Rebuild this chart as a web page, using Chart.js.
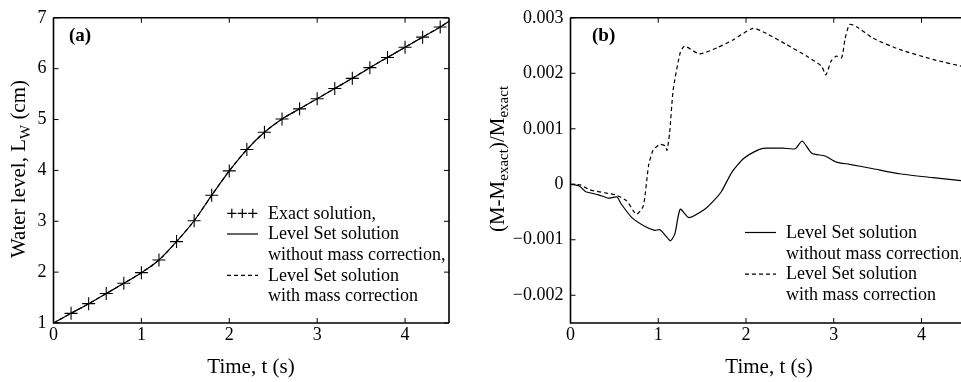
<!DOCTYPE html>
<html lang="en">
<head>
<script src="https://cdn.jsdelivr.net/npm/chart.js@4/dist/chart.umd.min.js"></script>
<style>
    body { margin: 0; background: #fff; }
    #wrap { position: relative; width: 961px; height: 382px; overflow: hidden; }
    #chart-a { position: absolute; left: 0; top: 0; }
    #chart-b { position: absolute; left: 480px; top: 0; }
</style>
</head>
<body>
<div id="wrap">
    <canvas id="chart-a" width="480" height="382"></canvas>
    <canvas id="chart-b" width="481" height="382"></canvas>
</div>
<script>
    // (a) water level vs time
    const exactT = [0, 0.2, 0.4, 0.6, 0.8, 1.0, 1.2, 1.4, 1.6, 1.8, 2.0, 2.2, 2.4, 2.6, 2.8, 3.0, 3.2, 3.4, 3.6, 3.8, 4.0, 4.2, 4.4];
    const exactL = [1.0, 1.19, 1.38, 1.58, 1.78, 1.99, 2.24, 2.60, 3.01, 3.51, 3.99, 4.41, 4.75, 5.01, 5.21, 5.41, 5.61, 5.81, 6.02, 6.22, 6.42, 6.62, 6.82];
    const lsT = [0, 0.2, 0.4, 0.6, 0.8, 1.0, 1.2, 1.4, 1.6, 1.8, 2.0, 2.2, 2.4, 2.6, 2.8, 3.0, 3.2, 3.4, 3.6, 3.8, 4.0, 4.2, 4.4, 4.5];
    const lsNoCorrL = [1.0, 1.19, 1.38, 1.58, 1.78, 1.99, 2.24, 2.60, 3.01, 3.51, 3.99, 4.41, 4.75, 5.01, 5.21, 5.41, 5.61, 5.81, 6.02, 6.22, 6.42, 6.62, 6.82, 6.93];
    const lsCorrL = [1.0, 1.19, 1.38, 1.58, 1.78, 1.99, 2.24, 2.60, 3.01, 3.51, 3.99, 4.41, 4.75, 5.01, 5.21, 5.41, 5.61, 5.81, 6.02, 6.22, 6.42, 6.62, 6.82, 6.93];
    const ticksA_x = [0, 1, 2, 3, 4];
    const ticksA_y = [1, 2, 3, 4, 5, 6, 7];

    // (b) relative mass error vs time
    const noCorrT = [0, 0.1, 0.17, 0.32, 0.43, 0.53, 0.58, 0.7, 0.85, 0.96, 1.02, 1.08, 1.14, 1.19, 1.25, 1.35, 1.53, 1.63, 1.72, 1.84, 1.97, 2.14, 2.23, 2.42, 2.56, 2.64, 2.75, 2.9, 3.03, 3.18, 3.45, 3.75, 4.13, 4.45];
    const noCorrE = [0, -0.00003, -0.00013, -0.00019, -0.00025, -0.00023, -0.00036, -0.0006, -0.00076, -0.00083, -0.00082, -0.00092, -0.00102, -0.00089, -0.00045, -0.0006, -0.00045, -0.0003, -0.00013, 0.00022, 0.00046, 0.00062, 0.00065, 0.00065, 0.00064, 0.00078, 0.00056, 0.00051, 0.0004, 0.00036, 0.00028, 0.00019, 0.00012, 0.000065];
    const corrT = [0, 0.11, 0.22, 0.41, 0.51, 0.64, 0.75, 0.83, 0.89, 0.94, 1.02, 1.08, 1.1, 1.13, 1.17, 1.25, 1.3, 1.47, 1.67, 1.85, 2.08, 2.23, 2.46, 2.69, 2.86, 2.91, 2.97, 3.03, 3.09, 3.13, 3.18, 3.26, 3.45, 3.75, 4.13, 4.45];
    const corrE = [0, -0.00001, -0.0001, -0.00016, -0.00019, -0.0003, -0.00054, -0.00039, 0.00034, 0.00061, 0.00072, 0.00069, 0.00061, 0.00093, 0.0017, 0.00237, 0.00249, 0.00235, 0.00246, 0.0026, 0.00281, 0.00272, 0.00252, 0.00231, 0.00213, 0.00197, 0.00222, 0.00231, 0.00228, 0.00263, 0.00288, 0.00284, 0.00263, 0.00243, 0.00225, 0.00213];
    const ticksB_x = [0, 1, 2, 3, 4];
    const ticksB_y = [-0.002, -0.001, 0, 0.001, 0.002, 0.003];

    const SERIF = '"Liberation Serif", "Times New Roman", serif';
    Chart.defaults.font.family = SERIF;
    Chart.defaults.font.size = 18;
    Chart.defaults.color = '#000';

    function pts(xs, ys) {
        return xs.map(function(x, i) { return {x: x, y: ys[i]}; });
    }

    function keepTicks(values) {
        return function(scale) {
            scale.ticks = values.map(function(v) { return {value: v}; });
        };
    }

    // text made of normal and subscript parts, centred on 0
    function drawParts(ctx, parts, size) {
        const sub = Math.round(size * 0.7);
        let w = 0;
        parts.forEach(function(p) {
            ctx.font = (p.sub ? sub : size) + 'px ' + SERIF;
            p.w = ctx.measureText(p.t).width;
            w += p.w;
        });
        let x = -w / 2;
        parts.forEach(function(p) {
            ctx.font = (p.sub ? sub : size) + 'px ' + SERIF;
            ctx.fillText(p.t, x, p.sub ? size * 0.22 : 0);
            x += p.w;
        });
    }

    const paperDecor = {
        id: 'paperDecor',
        afterDraw: function(chart, args, o) {
            const ctx = chart.ctx, a = chart.chartArea;
            const xs = chart.scales.x, ys = chart.scales.y;
            ctx.save();
            ctx.strokeStyle = '#000';
            ctx.fillStyle = '#000';
            ctx.lineWidth = 1.6;
            ctx.beginPath();
            ctx.moveTo(a.left, a.top); ctx.lineTo(a.left, a.bottom); ctx.lineTo(a.right, a.bottom);
            ctx.moveTo(a.left, a.top); ctx.lineTo(a.right, a.top);
            if (o.rightEdge) { ctx.moveTo(a.right, a.top); ctx.lineTo(a.right, a.bottom); }
            ctx.stroke();

            // inward ticks, mirrored on top (and right)
            ctx.lineWidth = 1;
            ctx.beginPath();
            xs.ticks.forEach(function(t) {
                const px = xs.getPixelForValue(t.value);
                ctx.moveTo(px, a.bottom); ctx.lineTo(px, a.bottom - 5);
                ctx.moveTo(px, a.top); ctx.lineTo(px, a.top + 5);
            });
            ys.ticks.forEach(function(t) {
                const py = ys.getPixelForValue(t.value);
                ctx.moveTo(a.left, py); ctx.lineTo(a.left + 5, py);
                if (o.rightEdge) { ctx.moveTo(a.right, py); ctx.lineTo(a.right - 5, py); }
            });
            ctx.stroke();

            // panel label
            ctx.font = 'bold 19px ' + SERIF;
            ctx.textBaseline = 'alphabetic';
            ctx.textAlign = 'left';
            ctx.fillText(o.panel, o.panelX, 41);

            // x title
            ctx.save();
            ctx.translate(o.xTitleX, 373);
            drawParts(ctx, [{t: 'Time, t (s)'}], 21);
            ctx.restore();

            // y title, rotated
            ctx.save();
            ctx.translate(o.yTitleX, o.yTitleY);
            ctx.rotate(-Math.PI / 2);
            drawParts(ctx, o.yTitle, 21);
            ctx.restore();

            // legend
            ctx.font = '18px ' + SERIF;
            o.legend.forEach(function(row, i) {
                const base = o.legendBase + i * o.legendGap;
                const my = base - 5.2;
                ctx.lineWidth = 1.2;
                if (row[0] === 'plus') {
                    ctx.beginPath();
                    [4.8, 15.3, 25.8].forEach(function(dx) {
                        ctx.moveTo(o.legendX + dx - 4.6, my); ctx.lineTo(o.legendX + dx + 4.6, my);
                        ctx.moveTo(o.legendX + dx, my - 4.6); ctx.lineTo(o.legendX + dx, my + 4.6);
                    });
                    ctx.stroke();
                } else if (row[0]) {
                    ctx.beginPath();
                    ctx.setLineDash(row[0] === 'dash' ? [4, 3] : []);
                    ctx.moveTo(o.legendX, my);
                    ctx.lineTo(o.legendX + 31, my);
                    ctx.stroke();
                    ctx.setLineDash([]);
                }
                ctx.fillText(row[1], o.legendX + 41, base);
            });
            ctx.restore();
        }
    };

    function baseScales(xMax, yMin, yMax, xTicks, yTicks, yWidth, yFmt) {
        return {
            x: {
                type: 'linear', min: 0, max: xMax,
                grid: {display: false, drawTicks: false},
                border: {display: false},
                ticks: {padding: 1, maxRotation: 0, callback: function(v) { return String(Math.round(v)); }},
                afterBuildTicks: keepTicks(xTicks),
                afterFit: function(s) { s.height = 59; }
            },
            y: {
                type: 'linear', min: yMin, max: yMax,
                grid: {display: false, drawTicks: false},
                border: {display: false},
                ticks: {padding: 7, callback: yFmt},
                afterBuildTicks: keepTicks(yTicks),
                afterFit: function(s) { s.width = yWidth; }
            }
        };
    }

    new Chart(document.getElementById('chart-a'), {
        type: 'scatter',
        data: {
            datasets: [
                {
                    label: 'Level Set solution with mass correction',
                    data: pts(lsT, lsCorrL), showLine: true, borderColor: '#000', borderWidth: 1.2,
                    borderDash: [4, 3], pointRadius: 0, cubicInterpolationMode: 'monotone'
                },
                {
                    label: 'Level Set solution without mass correction',
                    data: pts(lsT, lsNoCorrL), showLine: true, borderColor: '#000', borderWidth: 1.2,
                    pointRadius: 0, cubicInterpolationMode: 'monotone'
                },
                {
                    label: 'Exact solution',
                    data: pts(exactT, exactL), showLine: false, borderColor: '#000',
                    pointStyle: 'cross', pointRadius: 6.5, pointBorderWidth: 1.1
                }
            ]
        },
        options: {
            responsive: false,
            animation: false,
            layout: {padding: {top: 12.7, right: 31, left: 0, bottom: 0}},
            scales: baseScales(4.5, 1, 7, ticksA_x, ticksA_y, 53.5, function(v) { return String(Math.round(v)); }),
            plugins: {
                legend: {display: false},
                tooltip: {enabled: false},
                paperDecor: {
                    rightEdge: true, panel: '(a)', panelX: 69, xTitleX: 251,
                    yTitleX: 25, yTitleY: 169,
                    yTitle: [{t: 'Water level, L'}, {t: 'W', sub: true}, {t: ' (cm)'}],
                    legendX: 227, legendBase: 218.5, legendGap: 20.7,
                    legend: [['plus', 'Exact solution,'], ['solid', 'Level Set solution'], [null, 'without mass correction,'],
                             ['dash', 'Level Set solution'], [null, 'with mass correction']]
                }
            }
        },
        plugins: [paperDecor]
    });

    new Chart(document.getElementById('chart-b'), {
        type: 'scatter',
        data: {
            datasets: [
                {
                    label: 'Level Set solution without mass correction',
                    data: pts(noCorrT, noCorrE), showLine: true, borderColor: '#000', borderWidth: 1.2,
                    pointRadius: 0, tension: 0.2
                },
                {
                    label: 'Level Set solution with mass correction',
                    data: pts(corrT, corrE), showLine: true, borderColor: '#000', borderWidth: 1.2,
                    borderDash: [4, 3], pointRadius: 0, tension: 0.2
                }
            ]
        },
        options: {
            responsive: false,
            animation: false,
            layout: {padding: {top: 12.7, right: 0, left: 0, bottom: 0}},
            scales: baseScales(4.45, -0.0025, 0.003, ticksB_x, ticksB_y, 90.5, function(v) {
                const k = Math.round(v * 1000);
                if (k === 0) return '0';
                return (k < 0 ? '\u2212' : '') + '0.00' + Math.abs(k);
            }),
            plugins: {
                legend: {display: false},
                tooltip: {enabled: false},
                paperDecor: {
                    rightEdge: false, panel: '(b)', panelX: 112, xTitleX: 289,
                    yTitleX: 23.5, yTitleY: 159,
                    yTitle: [{t: '(M-M'}, {t: 'exact', sub: true}, {t: ')/M'}, {t: 'exact', sub: true}],
                    legendX: 265, legendBase: 237.7, legendGap: 20.8,
                    legend: [['solid', 'Level Set solution'], [null, 'without mass correction,'],
                             ['dash', 'Level Set solution'], [null, 'with mass correction']]
                }
            }
        },
        plugins: [paperDecor]
    });
</script>
</body>
</html>
